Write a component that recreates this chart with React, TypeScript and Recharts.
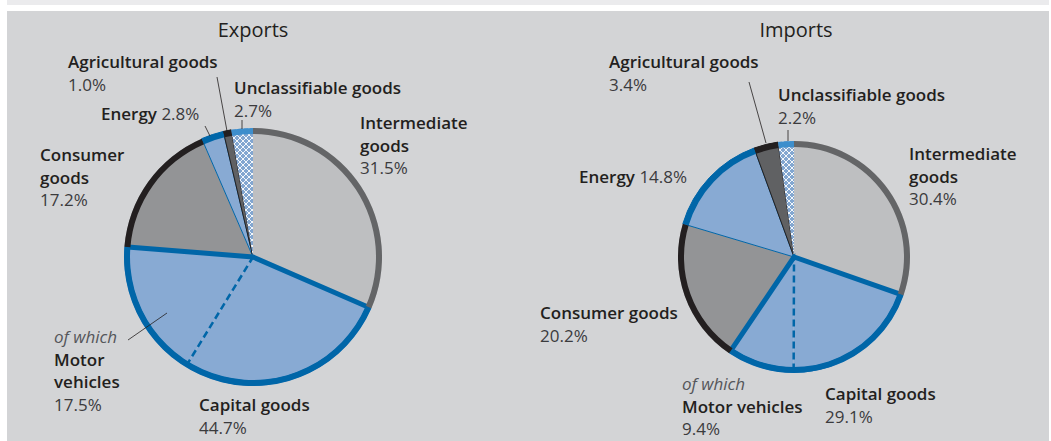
import React from 'react';
import { PieChart, Pie, Cell } from 'recharts';

// goods categories, clockwise from 12 o'clock
const categories = ['Intermediate goods', 'Capital goods', 'Consumer goods', 'Energy', 'Agricultural goods', 'Unclassifiable goods'];
const exportShares = [31.5, 44.7, 17.2, 2.8, 1.0, 2.7];
const importShares = [30.4, 29.1, 20.2, 14.8, 3.4, 2.2];
const motorLabel = 'Motor vehicles';
const exportMotor = 17.5; // of which, part of capital goods
const importMotor = 9.4;
const titles = ['Exports', 'Imports'];

const FILL = ['#bebfc1', '#88aad3', '#939496', '#88aad3', '#606163', 'url(#hatch)'];
const RING = ['#646567', '#0066a8', '#231f20', '#0066a8', '#231f20', '#3d8ecc'];
const EDGE = ['none', 'none', 'none', '#0066a8', '#231f20', 'none'];
const BLUE = '#0066a8';
const FONT = '"Open Sans", "Noto Sans", sans-serif';

type LabelPos = { idx: number; x: number; y: number; split?: boolean; inline?: boolean };
type MotorPos = { x: number; y: number; split?: boolean };
type Line = [number, number, number, number];

const exportLabels: LabelPos[] = [
  { idx: 4, x: 68, y: 68 },
  { idx: 5, x: 234, y: 94 },
  { idx: 3, x: 101, y: 120, inline: true },
  { idx: 2, x: 40, y: 161, split: true },
  { idx: 0, x: 360, y: 129, split: true },
  { idx: 1, x: 199, y: 411 },
];
const importLabels: LabelPos[] = [
  { idx: 4, x: 609, y: 68 },
  { idx: 5, x: 778, y: 101 },
  { idx: 3, x: 579, y: 183, inline: true },
  { idx: 0, x: 909, y: 160, split: true },
  { idx: 2, x: 540, y: 319 },
  { idx: 1, x: 825, y: 400 },
];
const exportMotorPos: MotorPos = { x: 54, y: 343, split: true };
const importMotorPos: MotorPos = { x: 682, y: 390 };

const exportLines: Line[] = [
  [217, 77, 227, 131],
  [205, 126, 210, 136],
  [242, 120, 242, 129],
  [128, 340, 167, 313],
];
const importLines: Line[] = [
  [749, 82, 766, 143],
  [788, 130, 788, 141],
];

const pct = (v: number) => `${v.toFixed(1)}%`;

const splitData = (shares: number[], motor: number) => [
  { name: categories[0], value: shares[0], fill: FILL[0], edge: EDGE[0] },
  { name: categories[1], value: +(shares[1] - motor).toFixed(1), fill: FILL[1], edge: EDGE[1] },
  { name: motorLabel, value: motor, fill: FILL[1], edge: EDGE[1], motor: true },
  ...categories.slice(2).map((c, i) => ({ name: c, value: shares[i + 2], fill: FILL[i + 2], edge: EDGE[i + 2] })),
];

const wholeData = (shares: number[]) => categories.map((c, i) => ({ name: c, value: shares[i] }));

function renderPies(key: string, cx: number, cy: number, r: number, shares: number[], motor: number) {
  const parts = splitData(shares, motor);
  const whole = wholeData(shares);
  const common = { cx, cy, startAngle: 90, endAngle: -270, dataKey: 'value', isAnimationActive: false, stroke: 'none' };
  return [
    <Pie key={key + 'fill'} {...common} data={parts} outerRadius={r}>
      {parts.map((p, i) => (
        <Cell key={i} fill={p.fill} stroke={p.edge} strokeWidth={p.edge === 'none' ? 0 : 1} />
      ))}
    </Pie>,
    <Pie key={key + 'dash'} {...common} data={parts} outerRadius={r - 3}>
      {parts.map((p, i) => (
        <Cell
          key={i}
          fill="none"
          stroke={p.motor ? BLUE : 'none'}
          strokeWidth={p.motor ? 2.5 : 0}
          strokeDasharray={p.motor ? '7 4' : undefined}
        />
      ))}
    </Pie>,
    <Pie key={key + 'cap'} {...common} data={whole} outerRadius={r - 3}>
      {whole.map((p, i) => (
        <Cell key={i} fill="none" stroke={i === 1 ? BLUE : 'none'} strokeWidth={i === 1 ? 5 : 0} />
      ))}
    </Pie>,
    <Pie key={key + 'ring'} {...common} data={whole} innerRadius={r - 6} outerRadius={r}>
      {whole.map((p, i) => (
        <Cell key={i} fill={RING[i]} />
      ))}
    </Pie>,
  ];
}

const nameStyle = { fontFamily: FONT, fontSize: 17, fontWeight: 600, fill: '#231f20' } as const;
const pctStyle = { fontFamily: FONT, fontSize: 17, fontWeight: 400, fill: '#3b3b3d' } as const;
const LH = 22.5;

function Labels({ labels, shares, motorPos, motor, lines }: { labels: LabelPos[]; shares: number[]; motorPos: MotorPos; motor: number; lines: Line[] }) {
  return (
    <g>
      {lines.map((l, i) => (
        <line key={'l' + i} x1={l[0]} y1={l[1]} x2={l[2]} y2={l[3]} stroke="#231f20" strokeWidth={0.8} />
      ))}
      {labels.map((lb) => {
        const name = categories[lb.idx];
        if (lb.inline) {
          return (
            <text key={name} x={lb.x} y={lb.y}>
              <tspan {...nameStyle}>{name}</tspan>
              <tspan {...pctStyle}> {pct(shares[lb.idx])}</tspan>
            </text>
          );
        }
        const rows = lb.split ? name.split(' ') : [name];
        return (
          <g key={name}>
            {rows.map((row, j) => (
              <text key={j} x={lb.x} y={lb.y + j * LH} {...nameStyle}>{row}</text>
            ))}
            <text x={lb.x} y={lb.y + rows.length * LH} {...pctStyle}>{pct(shares[lb.idx])}</text>
          </g>
        );
      })}
      <text x={motorPos.x} y={motorPos.y} {...pctStyle} fontStyle="italic" fill="#55565a">of which</text>
      {(motorPos.split ? motorLabel.split(' ') : [motorLabel]).map((row, j) => (
        <text key={'m' + j} x={motorPos.x} y={motorPos.y + (j + 1) * LH} {...nameStyle}>{row}</text>
      ))}
      <text x={motorPos.x} y={motorPos.y + ((motorPos.split ? 2 : 1) + 1) * LH} {...pctStyle}>{pct(motor)}</text>
    </g>
  );
}

export default function App() {
  return (
    <div style={{ position: 'absolute', left: 0, top: 0, width: 1051, height: 441, background: '#fff', overflow: 'hidden' }}>
      <div style={{ position: 'absolute', left: 7, top: 0, width: 1042, height: 5, background: '#ebebed' }} />
      <div style={{ position: 'absolute', left: 7, top: 11, width: 1042, height: 430, background: '#d3d4d6' }} />
      <svg width={0} height={0} style={{ position: 'absolute' }}>
        <defs>
          <pattern id="hatch" width={6} height={6} patternUnits="userSpaceOnUse">
            <rect width={6} height={6} fill="#82a6d0" />
            <path d="M0,0 L6,6 M6,0 L0,6" stroke="#fff" strokeWidth={0.9} />
          </pattern>
        </defs>
      </svg>
      <div style={{ position: 'absolute', left: 0, top: 0 }}>
        <PieChart width={1051} height={441} margin={{ top: 0, right: 0, bottom: 0, left: 0 }}>
          {renderPies('ex', 253, 257, 129, exportShares, exportMotor)}
          {renderPies('im', 794, 257, 116, importShares, importMotor)}
        </PieChart>
      </div>
      <svg width={1051} height={441} style={{ position: 'absolute', left: 0, top: 0, pointerEvents: 'none' }}>
        <text x={253} y={37} textAnchor="middle" fontFamily={FONT} fontSize={20} fill="#231f20">{titles[0]}</text>
        <text x={796} y={37} textAnchor="middle" fontFamily={FONT} fontSize={20} fill="#231f20">{titles[1]}</text>
        <Labels labels={exportLabels} shares={exportShares} motorPos={exportMotorPos} motor={exportMotor} lines={exportLines} />
        <Labels labels={importLabels} shares={importShares} motorPos={importMotorPos} motor={importMotor} lines={importLines} />
      </svg>
    </div>
  );
}
